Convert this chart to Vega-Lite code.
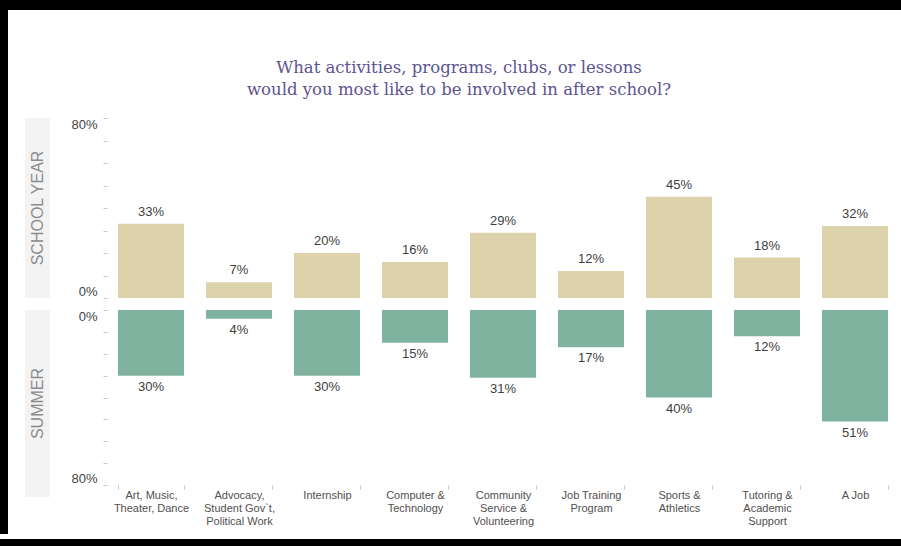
{
  "$schema": "https://vega.github.io/schema/vega-lite/v6.json",
  "padding": 0,
  "background": "white",
  "config": {
    "view": {"stroke": null},
    "font": "Liberation Sans"
  },
  "datasets": {
    "survey": [
      {"activity": "Art, Music,\nTheater, Dance", "schoolYear": 0.33, "summer": 0.30},
      {"activity": "Advocacy,\nStudent Gov`t,\nPolitical Work", "schoolYear": 0.07, "summer": 0.04},
      {"activity": "Internship", "schoolYear": 0.20, "summer": 0.30},
      {"activity": "Computer &\nTechnology", "schoolYear": 0.16, "summer": 0.15},
      {"activity": "Community\nService &\nVolunteering", "schoolYear": 0.29, "summer": 0.31},
      {"activity": "Job Training\nProgram", "schoolYear": 0.12, "summer": 0.17},
      {"activity": "Sports &\nAthletics", "schoolYear": 0.45, "summer": 0.40},
      {"activity": "Tutoring &\nAcademic\nSupport", "schoolYear": 0.18, "summer": 0.12},
      {"activity": "A Job", "schoolYear": 0.32, "summer": 0.51}
    ],
    "blank": [{"label": ""}],
    "schoolLabel": [{"label": "SCHOOL YEAR"}],
    "summerLabel": [{"label": "SUMMER"}]
  },
  "spacing": 0,
  "vconcat": [
    {
      "width": 901, "height": 10,
      "data": {"name": "blank"},
      "view": {"fill": "black", "stroke": null},
      "mark": {"type": "point", "opacity": 0},
      "encoding": {}
    },
    {
      "spacing": 17,
      "hconcat": [
        {
          "width": 8, "height": 524,
          "data": {"name": "blank"},
          "view": {"fill": "black", "stroke": null},
          "mark": {"type": "point", "opacity": 0},
          "encoding": {}
        },
        {
          "spacing": 10,
          "vconcat": [
            {
              "width": 868, "height": 97,
              "data": {"name": "blank"},
              "mark": {"type": "text", "font": "DejaVu Serif", "fontSize": 16.5, "color": "#5d548f", "lineHeight": 22, "baseline": "middle", "align": "center", "dy": 9},
              "encoding": {"text": {"value": ["What activities, programs, clubs, or lessons", "would you most like to be involved in after school?"]}}
            },
            {
              "spacing": 20,
              "hconcat": [
                {
                  "width": 25, "height": 180,
                  "data": {"name": "schoolLabel"},
                  "view": {"fill": "#f3f3f3", "stroke": null},
                  "mark": {"type": "text", "angle": 270, "fontSize": 16, "color": "#8c8c8c", "align": "center", "baseline": "middle"},
                  "encoding": {"text": {"field": "label"}}
                },
                {
                  "width": 792, "height": 180,
                  "data": {"name": "survey"},
                  "encoding": {
                    "x": {"field": "activity", "type": "nominal", "sort": null, "axis": null,
                          "scale": {"paddingInner": 0.25, "paddingOuter": 0.125}},
                    "y": {"field": "schoolYear", "type": "quantitative",
                          "scale": {"domain": [0, 0.8]},
                          "axis": {"title": null, "values": [0, 0.1, 0.2, 0.3, 0.4, 0.5, 0.6, 0.7, 0.8], "format": ".0%",
                                   "labelExpr": "datum.value === 0 || datum.value >= 0.79 ? datum.label : ''",
                                   "labelFlush": true, "domain": false, "grid": false,
                                   "tickColor": "#c8c8c8", "tickSize": 4, "labelPadding": 6,
                                   "labelFontSize": 13, "labelColor": "#444444"}}
                  },
                  "layer": [
                    {"mark": {"type": "bar", "color": "#dcd2ab"}},
                    {"mark": {"type": "text", "baseline": "bottom", "dy": -5, "fontSize": 13, "color": "#404040"},
                     "encoding": {"text": {"field": "schoolYear", "type": "quantitative", "format": ".0%"}}}
                  ]
                }
              ]
            },
            {
              "spacing": 20,
              "hconcat": [
                {
                  "width": 25, "height": 187,
                  "data": {"name": "summerLabel"},
                  "view": {"fill": "#f3f3f3", "stroke": null},
                  "mark": {"type": "text", "angle": 270, "fontSize": 16, "color": "#8c8c8c", "align": "center", "baseline": "middle"},
                  "encoding": {"text": {"field": "label"}}
                },
                {
                  "width": 792, "height": 175,
                  "data": {"name": "survey"},
                  "encoding": {
                    "x": {"field": "activity", "type": "nominal", "sort": null,
                          "scale": {"paddingInner": 0.25, "paddingOuter": 0.125},
                          "axis": {"title": null, "labelAngle": 0, "labelExpr": "isValid(datum.value) ? split(datum.value, '\\n') : ''",
                                   "labelFontSize": 11, "labelColor": "#505050", "labelLineHeight": 13,
                                   "labelPadding": 0, "labelLimit": 200, "domain": false,
                                   "tickBand": "extent", "tickColor": "#c8c8c8", "tickSize": 4}},
                    "y": {"field": "summer", "type": "quantitative",
                          "scale": {"domain": [0, 0.8], "reverse": true},
                          "axis": {"title": null, "values": [0, 0.1, 0.2, 0.3, 0.4, 0.5, 0.6, 0.7, 0.8], "format": ".0%",
                                   "labelExpr": "datum.value === 0 || datum.value >= 0.79 ? datum.label : ''",
                                   "labelFlush": true, "domain": false, "grid": false,
                                   "tickColor": "#c8c8c8", "tickSize": 4, "labelPadding": 6,
                                   "labelFontSize": 13, "labelColor": "#444444"}}
                  },
                  "layer": [
                    {"mark": {"type": "bar", "color": "#7fb3a0"}},
                    {"mark": {"type": "text", "baseline": "top", "dy": 5, "fontSize": 13, "color": "#404040"},
                     "encoding": {"text": {"field": "summer", "type": "quantitative", "format": ".0%"}}}
                  ]
                }
              ]
            },
            {
              "width": 1, "height": 3,
              "data": {"name": "blank"},
              "mark": {"type": "point", "opacity": 0, "size": 1, "strokeWidth": 0},
              "encoding": {}
            }
          ]
        }
      ]
    },
    {
      "width": 901, "height": 7,
      "data": {"name": "blank"},
      "view": {"fill": "black", "stroke": null},
      "mark": {"type": "point", "opacity": 0},
      "encoding": {}
    }
  ]
}
